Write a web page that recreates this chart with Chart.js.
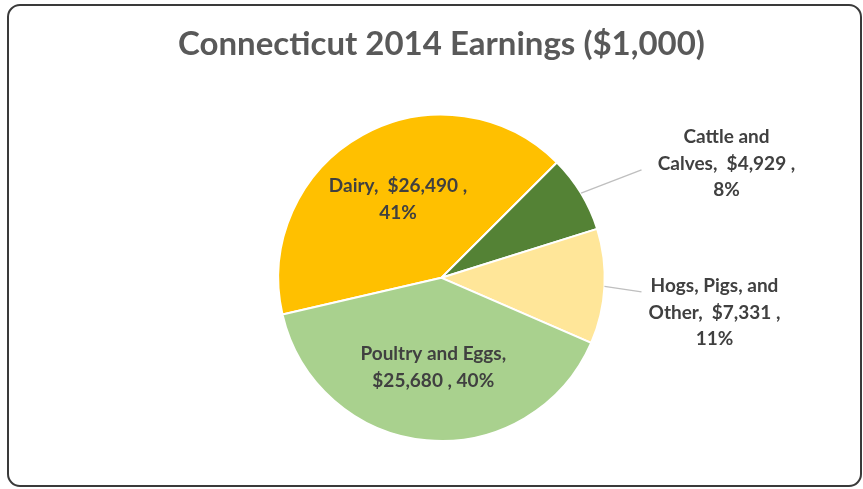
<!DOCTYPE html>
<html>
<head>
<meta charset="utf-8">
<script src="https://cdn.jsdelivr.net/npm/chart.js@4.4.1/dist/chart.umd.min.js"></script>
<style>
  html, body { margin: 0; padding: 0; background: #fff; }
  #wrap { width: 863px; height: 489px; }
</style>
</head>
<body>
<div id="wrap"><canvas id="myChart" width="863" height="489"></canvas></div>
<script>
// data
var categories = ["Dairy", "Cattle and Calves", "Hogs, Pigs, and Other", "Poultry and Eggs"];
var earnings = [26490, 4929, 7331, 25680];
var sliceColors = ['#FFC000', '#548235', '#FFE699', '#A9D18E'];

// how each label is broken into lines and where it sits
var labelLines = [
    function (v, p) { return ["Dairy,  $" + v + " ,", p + "%"]; },
    function (v, p) { return ["Cattle and", "Calves,  $" + v + " ,", p + "%"]; },
    function (v, p) { return ["Hogs, Pigs, and", "Other,  $" + v + " ,", p + "%"]; },
    function (v, p) { return ["Poultry and Eggs,", "$" + v + " , " + p + "%"]; }
];
// inside: distance as share of radius; outside: text centre and elbow offset from pie centre
var labelPlace = [
    { inside: true, r: 0.55 },
    { inside: false, tx: 285, ty: -114, ex: 200, ey: -108 },
    { inside: false, tx: 273, ty: 35, ex: 200, ey: 14 },
    { inside: true, r: 0.55 }
];

var frame = {
    id: 'frame',
    beforeDraw: function (chart) {
        var ctx = chart.ctx;
        ctx.save();
        ctx.fillStyle = '#fff';
        ctx.fillRect(0, 0, chart.width, chart.height);
        ctx.strokeStyle = '#3a3a3a';
        ctx.lineWidth = 2;
        ctx.beginPath();
        ctx.roundRect(8, 5, chart.width - 10, chart.height - 8, 12);
        ctx.stroke();
        ctx.restore();
    }
};

var sliceLabels = {
    id: 'sliceLabels',
    afterDatasetsDraw: function (chart) {
        var ctx = chart.ctx;
        var meta = chart.getDatasetMeta(0);
        var data = chart.data.datasets[0].data;
        var total = data.reduce(function (a, b) { return a + b; }, 0);
        ctx.save();
        ctx.font = 'bold 19px Lato';
        ctx.fillStyle = '#404040';
        ctx.textAlign = 'center';
        ctx.textBaseline = 'middle';
        meta.data.forEach(function (arc, i) {
            var pct = Math.round(data[i] / total * 100);
            var lines = labelLines[i](data[i].toLocaleString('en-US'), pct);
            var place = labelPlace[i];
            var cx = arc.x, cy = arc.y, R = arc.outerRadius;
            var mid = (arc.startAngle + arc.endAngle) / 2;
            var x, y;
            if (place.inside) {
                x = cx + Math.cos(mid) * R * place.r;
                y = cy + Math.sin(mid) * R * place.r;
            } else {
                x = cx + place.tx;
                y = cy + place.ty;
                ctx.strokeStyle = '#bfbfbf';
                ctx.lineWidth = 1.3;
                ctx.beginPath();
                ctx.moveTo(cx + Math.cos(mid) * R, cy + Math.sin(mid) * R);
                ctx.lineTo(cx + place.ex, cy + place.ey);
                ctx.stroke();
            }
            var lh = 26.5;
            var y0 = y - (lines.length - 1) * lh / 2;
            lines.forEach(function (t, k) {
                ctx.fillText(t, x, y0 + k * lh);
            });
        });
        ctx.restore();
    }
};

var ctx = document.getElementById("myChart").getContext('2d');
var myChart = new Chart(ctx, {
    type: 'pie',
    data: {
        labels: categories,
        datasets: [{
            data: earnings,
            backgroundColor: sliceColors,
            borderColor: '#fff',
            borderWidth: 2
        }]
    },
    options: {
        responsive: false,
        animation: false,
        rotation: 257,
        layout: {
            padding: { top: 0, bottom: 47, left: 20, right: 0 }
        },
        plugins: {
            title: {
                display: true,
                text: 'Connecticut 2014 Earnings ($1,000)',
                color: '#595959',
                font: { family: 'Lato', size: 33, weight: 'bold' },
                padding: { top: 25, bottom: 49 }
            },
            legend: { display: false },
            tooltip: { enabled: false }
        }
    },
    plugins: [frame, sliceLabels]
});
</script>
</body>
</html>
